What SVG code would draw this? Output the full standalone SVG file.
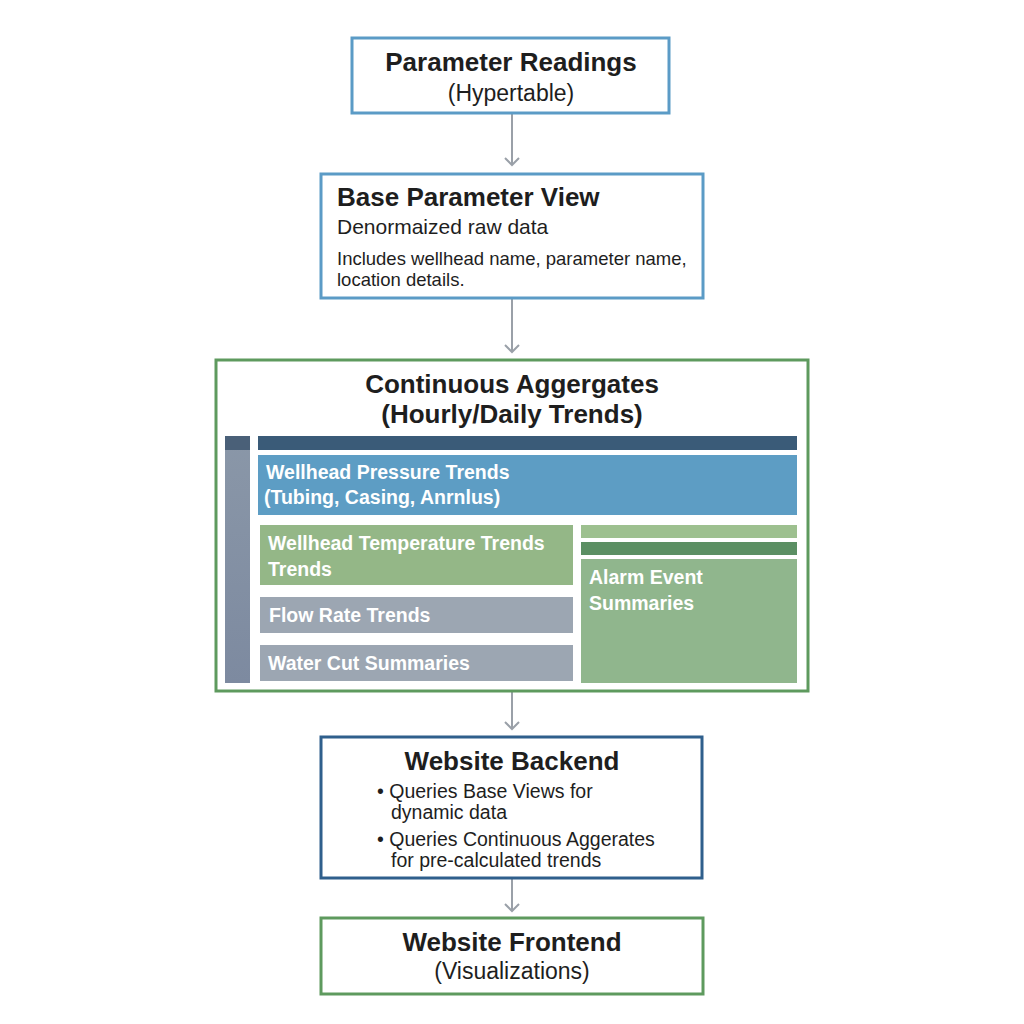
<svg xmlns="http://www.w3.org/2000/svg" width="1024" height="1024" viewBox="0 0 1024 1024">
<style>
text{font-family:"Liberation Sans",Arial,sans-serif;fill:#1e1e1e}
.t{font-weight:bold;font-size:26px}
.s{font-size:23px}
.b{font-size:19.5px}
.w{font-weight:bold;font-size:19.5px;fill:#ffffff}
.box{fill:#ffffff;stroke-width:3}
.blue{stroke:#5b9bc6}
.green{stroke:#5e9a5e}
.navy{stroke:#2f5f8c}
.conn{stroke:#9aa0a8;stroke-width:2;fill:none}
</style>
<defs>
<marker id="arr" markerWidth="16" markerHeight="16" refX="8" refY="8" orient="auto" markerUnits="userSpaceOnUse">
<path d="M1,1 L8,8 L1,15" fill="none" stroke="#9aa0a8" stroke-width="2"/>
</marker>
<linearGradient id="lbar" x1="0" y1="0" x2="0" y2="1">
<stop offset="0" stop-color="#8a97a8"/><stop offset="1" stop-color="#7d8aa0"/>
</linearGradient>
</defs>
<rect width="1024" height="1024" fill="#ffffff"/>
<g id="connectors">
<line class="conn" x1="512" y1="114" x2="512" y2="165" marker-end="url(#arr)"/>
<line class="conn" x1="512" y1="299" x2="512" y2="352" marker-end="url(#arr)"/>
<line class="conn" x1="512" y1="692" x2="512" y2="729" marker-end="url(#arr)"/>
<line class="conn" x1="512" y1="879" x2="512" y2="911" marker-end="url(#arr)"/>
</g>
<g id="parameter-readings">
<rect class="box blue" x="352" y="38" width="317" height="75"/>
<text class="t" x="511" y="71" text-anchor="middle">Parameter Readings</text>
<text class="s" x="511" y="101" text-anchor="middle">(Hypertable)</text>
</g>
<g id="base-parameter-view">
<rect class="box blue" x="321" y="174" width="382" height="124"/>
<text class="t" x="337" y="206">Base Parameter View</text>
<text style="font-size:21px" x="337" y="234">Denormaized raw data</text>
<text style="font-size:18.5px" x="337" y="265">Includes wellhead name, parameter name,</text>
<text style="font-size:18.5px" x="337" y="286">location details.</text>
</g>
<g id="continuous-aggregates">
<rect class="box green" x="216" y="360" width="592" height="331"/>
<text class="t" x="512" y="393" text-anchor="middle">Continuous Aggergates</text>
<text class="t" x="512" y="423" text-anchor="middle">(Hourly/Daily Trends)</text>
<rect x="225" y="436" width="25" height="247" fill="url(#lbar)"/>
<rect x="225" y="436" width="25" height="14" fill="#4a6078"/>
<rect x="258" y="436" width="539" height="14" fill="#3a5b78"/>
<g id="pressure-trends">
<rect x="258" y="455" width="539" height="60" fill="#5d9dc4"/>
<text class="w" x="266" y="479">Wellhead Pressure Trends</text>
<text class="w" x="264" y="504">(Tubing, Casing, Anrnlus)</text>
</g>
<g id="temperature-trends">
<rect x="260" y="525" width="313" height="60" fill="#94b787"/>
<text class="w" x="268" y="550">Wellhead Temperature Trends</text>
<text class="w" x="268" y="576">Trends</text>
</g>
<g id="flow-rate-trends">
<rect x="260" y="597" width="313" height="36" fill="#9ca6b2"/>
<text class="w" x="269" y="622">Flow Rate Trends</text>
</g>
<g id="water-cut-summaries">
<rect x="260" y="645" width="313" height="36" fill="#9ca6b2"/>
<text class="w" x="268" y="670">Water Cut Summaries</text>
</g>
<g id="alarm-event-summaries">
<rect x="581" y="525" width="216" height="13" fill="#9dc08f"/>
<rect x="581" y="542" width="216" height="13" fill="#5b8f63"/>
<rect x="581" y="559" width="216" height="124" fill="#90b68d"/>
<text class="w" x="589" y="584">Alarm Event</text>
<text class="w" x="589" y="610">Summaries</text>
</g>
</g>
<g id="website-backend">
<rect class="box navy" x="321" y="737" width="381" height="141"/>
<text class="t" x="512" y="770" text-anchor="middle">Website Backend</text>
<text class="b" x="377" y="798">• Queries Base Views for</text>
<text class="b" x="391" y="819">dynamic data</text>
<text class="b" x="377" y="846">• Queries Continuous Aggerates</text>
<text class="b" x="391" y="867">for pre-calculated trends</text>
</g>
<g id="website-frontend">
<rect class="box green" x="321" y="918" width="382" height="76"/>
<text class="t" x="512" y="951" text-anchor="middle">Website Frontend</text>
<text class="s" x="512" y="979" text-anchor="middle">(Visualizations)</text>
</g>
</svg>
